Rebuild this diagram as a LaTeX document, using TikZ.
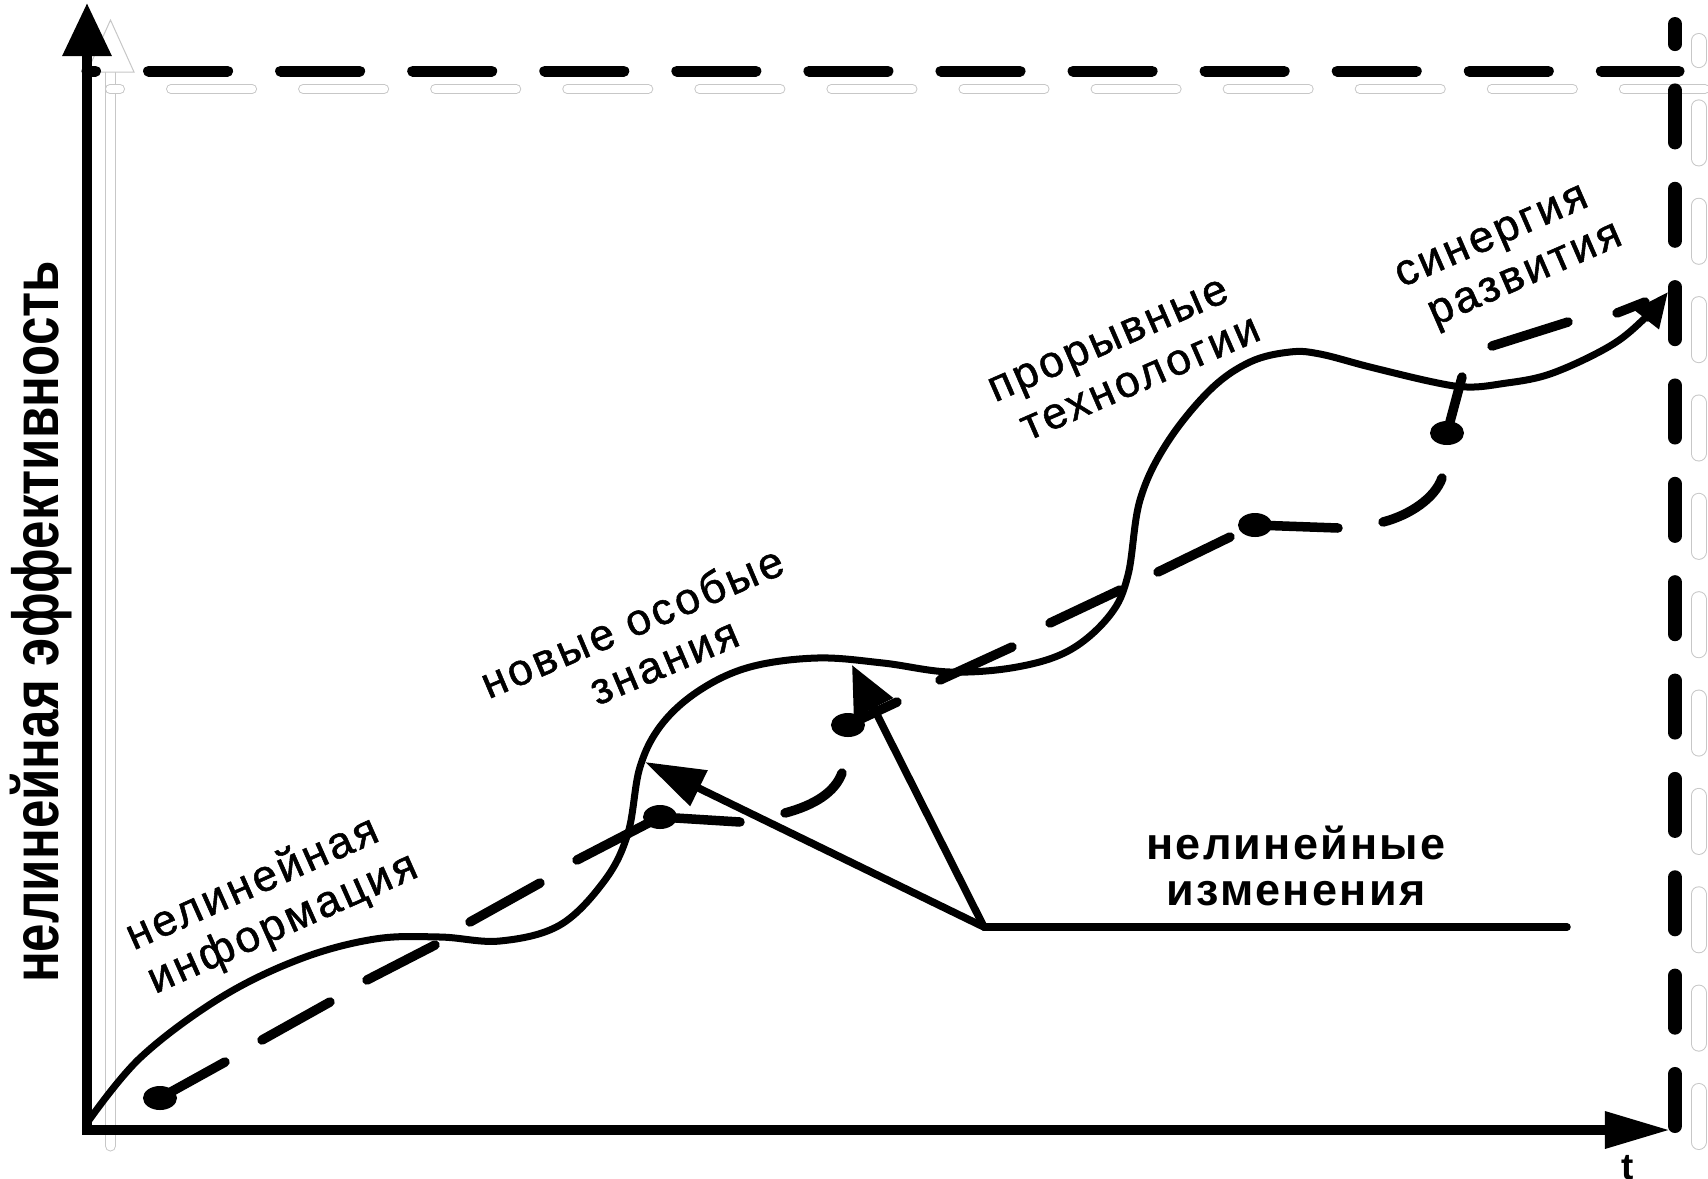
\documentclass[tikz,border=0pt]{standalone}
\usepackage{fontspec}
\setmainfont{Liberation Sans}
\newfontfamily\labfont[LetterSpace=6.5,FakeBold=1.2]{Liberation Sans}
\newfontfamily\boldlab[LetterSpace=5]{Liberation Sans}
\usetikzlibrary{arrows.meta}
\begin{document}
\begin{tikzpicture}[x=0.01cm,y=-0.01cm,
  axis/.style={line width=0.95mm, line join=miter},
  curve/.style={line width=0.7mm, line cap=round, line join=round},
  pin/.style={line width=0.95mm, line cap=round},
  shadowline/.style={draw=black!22, line width=0.1mm, double=white, line cap=round},
  lab/.style={font=\labfont\fontsize{12.6}{13.8}\selectfont, align=center, inner sep=0pt},
  pointer/.style={line width=0.75mm, line cap=round},
]
\useasboundingbox (0,0) rectangle (1708,1178);

% light shadow lines
\draw[shadowline, double distance=0.9mm] (110.5,1146) -- (110.5,70);
\path[fill=white, draw=black!22, line width=0.1mm] (110.5,20) -- (134,72) -- (87,72) -- cycle;
\draw[shadowline, double distance=0.8mm, dash pattern=on 8.1mm off 5.1mm, dash phase=7.1mm] (110,89) -- (1708,89);
\draw[shadowline, double distance=1.4mm, dash pattern=on 5.1mm off 4.73mm] (1698.5,1142) -- (1698.5,41);

% black dashed frame
\draw[line width=1.1mm, line cap=round, dash pattern=on 7.9mm off 5.3mm, dash phase=7.05mm] (87,71) -- (1679,71);
\draw[line width=1.4mm, line cap=round, dash pattern=on 5.2mm off 4.63mm] (1675,1126) -- (1675,24);

% axes
\coordinate (O) at (87,1130);
\coordinate (xtip) at (1670,1130);
\coordinate (ytip) at (87,3);
\draw[axis, {Triangle[length=6.5mm,width=3.5mm]}-{Triangle[length=5.3mm,width=4.7mm]}] (xtip) -- (O) -- (ytip);

% solid curve
\draw[curve, -{Triangle[length=3.5mm,width=3mm]}] plot[smooth, tension=0.6] coordinates {
 (87,1123) (140,1058) (220,998) (300,959) (375,939) (440,937) (500,941)
 (560,925) (605,880) (628,833) (640,767) (662,724) (700,690) (750,667)
 (817,658) (883,663) (950,672) (1017,667) (1070,650) (1110,615) (1128,575) (1140,500)
 (1167,443) (1210,390) (1250,362) (1290,352) (1320,354) (1370,367) (1433,382)
 (1467,387) (1500,384) (1550,374) (1610,346) (1645,318) (1668,292)};

% dashed development line with pins
\coordinate (p1) at (160,1098);
\coordinate (p2) at (660,817);
\coordinate (p3) at (848,725);
\coordinate (p4) at (1255,525);
\coordinate (p5) at (1447,433);
\foreach \p in {p1,p2,p3,p4,p5} \fill (\p) ellipse [x radius=1.7mm, y radius=1.2mm];
\draw[pin] (p1) -- (225,1062);
\draw[pin] (262,1040) -- (330,1002);
\draw[pin] (367,980) -- (435,945);
\draw[pin] (470,922) -- (540,883);
\draw[pin] (577,860) -- (p2);
\draw[pin] (p2) -- (740,822);
\draw[pin] (785,813) .. controls (815,805) and (835,792) .. (842,773);
\draw[pin] (p3) -- (897,702);
\draw[pin] (940,680) -- (1012,647);
\draw[pin] (1050,623) -- (1120,590);
\draw[pin] (1158,572) -- (1230,537);
\draw[pin] (p4) -- (1338,528);
\draw[pin] (1383,522) .. controls (1410,515) and (1435,498) .. (1442,478);
\draw[pin] (p5) -- (1462,377);
\draw[pin] (1492,346) -- (1568,322);
\draw[pin] (1617,313) -- (1645,302);

% pointers
\coordinate (hubR) at (1567,927);
\coordinate (hub) at (984,927);
\coordinate (tipA) at (645,762);
\coordinate (tipB) at (852,665);
\draw[pointer] (hubR) -- (hub);
\draw[pointer, -{Triangle[length=6mm,width=3.8mm]}] (hub) -- (tipA);
\draw[pointer, -{Triangle[length=4.8mm,width=4.2mm]}] (hub) -- (tipB);

% labels
\node[lab, rotate=24] (lab1) at (273,902) {нелинейная\hspace*{6.5pt}\\информация};
\node[lab, rotate=23] (lab2) at (654,638) {новые особые\hspace*{8pt}\\знания};
\node[lab, rotate=23.5] (lab3) at (1131,357) {прорывные\hspace*{8pt}\\технологии};
\node[lab, rotate=23.5] (lab4) at (1517,256) {синергия\hspace*{8.8pt}\\развития};
\node[font=\boldlab\bfseries\fontsize{12.8}{13.2}\selectfont, align=center, inner sep=0pt] (chg) at (1296,866) {нелинейные\\изменения};
\node[rotate=90, inner sep=0pt, font=\bfseries\fontsize{18.5}{20}\selectfont] (ylab) at (41,622) {\scalebox{0.785}[1]{нелинейная эффективность}};
\node[anchor=north, inner sep=0pt, font=\bfseries\fontsize{10.5}{12}\selectfont] (tlab) at (1628,1155) {t};
\end{tikzpicture}
\end{document}
